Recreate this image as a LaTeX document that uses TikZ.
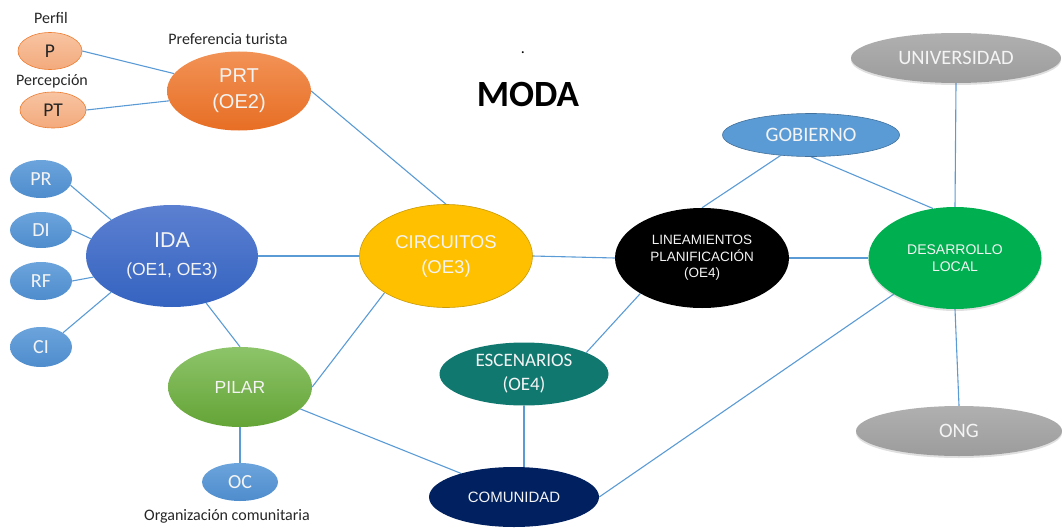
\documentclass[tikz,border=0pt]{standalone}
\usepackage{fontspec}
\setmainfont{Carlito}
\newfontfamily\robo{Liberation Sans}
\usetikzlibrary{shapes.geometric,backgrounds,shadows}
\definecolor{edgeblue}{HTML}{5B9BD5}
\definecolor{txtw}{HTML}{F4F4F4}
\definecolor{txtd}{HTML}{262626}
\begin{document}
\begin{tikzpicture}[x=1pt,y=-1pt,
  ell/.style={ellipse, inner sep=0pt, align=center},
  conn/.style={draw=edgeblue, line width=1.1pt},
  lbl/.style={font=\fontsize{16}{18}\selectfont, text=txtd},
  smallorange/.style={ell, top color={rgb,255:red,248;green,196;blue,162}, bottom color={rgb,255:red,243;green,170;blue,124}, draw={rgb,255:red,237;green,125;blue,49}, line width=0.6pt, text=txtd, font=\fontsize{19.5}{20}\selectfont},
  smallblue/.style={ell, top color={rgb,255:red,108;green,164;blue,220}, bottom color={rgb,255:red,78;green,140;blue,205}, text=txtw, font=\fontsize{20}{20}\selectfont},
  softshadow/.style={drop shadow={opacity=0.25, shadow xshift=0pt, shadow yshift=-2pt}},
  grayell/.style={ell, top color={rgb,255:red,176;green,176;blue,176}, bottom color={rgb,255:red,156;green,156;blue,156}, text=txtw, font=\fontsize{20.5}{22}\selectfont, softshadow}
]
\useasboundingbox (0,0) rectangle (1062,527);

% title
\node[font=\bfseries\fontsize{37}{40}\selectfont, text=black] (moda) at (528,94) {MODA};
\node[font=\fontsize{16}{18}\selectfont, anchor=base] (dot) at (523,54) {.};

% left top cluster
\node[smallorange, minimum width=64pt, minimum height=37pt] (P) at (50,51) {P};
\node[smallorange, minimum width=66pt, minimum height=36pt] (PT) at (53,110) {PT};
\node[lbl] (perfil) at (51,18) {Perfil};
\node[lbl] (percep) at (52,81) {Percepción};
\node[lbl] (pref) at (228,39) {Preferencia turista};
\node[ell, minimum width=144pt, minimum height=79pt,
  top color={rgb,255:red,242;green,146;blue,86}, bottom color={rgb,255:red,231;green,110;blue,36},
  text=txtw, font=\robo\fontsize{20}{26}\selectfont] (PRT) at (239,91) {PRT\\(OE2)};

% left blue cluster
\node[smallblue, minimum width=62pt, minimum height=38pt] (PR) at (41,179) {PR};
\node[smallblue, minimum width=62pt, minimum height=36pt] (DI) at (41,230) {DI};
\node[smallblue, minimum width=62pt, minimum height=38pt] (RF) at (41,281) {RF};
\node[smallblue, minimum width=62pt, minimum height=40pt] (CI) at (41,347) {CI};
\node[ell, minimum width=172pt, minimum height=102pt,
  top color={rgb,255:red,92;green,128;blue,209}, bottom color={rgb,255:red,52;green,99;blue,192},
  text=txtw, font=\robo\fontsize{17.5}{28}\selectfont] (IDA) at (172,256) {{\fontsize{21.5}{26}\selectfont IDA}\\(OE1, OE3)};

\node[ell, minimum width=144pt, minimum height=80pt,
  top color={rgb,255:red,141;green,196;blue,106}, bottom color={rgb,255:red,100;green,164;blue,54},
  text=txtw, font=\robo\fontsize{17.5}{20}\selectfont] (PILAR) at (240,387) {PILAR};
\node[smallblue, minimum width=76pt, minimum height=38pt] (OC) at (240,482) {OC};
\node[lbl] (orgcom) at (227,516) {Organización comunitaria};

% centre
\node[ell, minimum width=173pt, minimum height=103pt, fill={rgb,255:red,255;green,192;blue,0},
  draw={rgb,255:red,201;green,154;blue,6}, line width=0.6pt,
  text=txtw, font=\robo\fontsize{18.5}{25}\selectfont] (CIRC) at (446,256) {CIRCUITOS\\(OE3)};
\node[ell, minimum width=169pt, minimum height=63pt, fill={rgb,255:red,17;green,120;blue,112},
  text=txtw, font=\fontsize{19}{24}\selectfont] (ESC) at (524,374) {ESCENARIOS\\(OE4)};
\node[ell, minimum width=170pt, minimum height=60pt, fill={rgb,255:red,0;green,32;blue,96},
  text=txtw, font=\robo\fontsize{15}{18}\selectfont] (COM) at (514,497) {COMUNIDAD};
\node[ell, minimum width=174pt, minimum height=100pt, fill=black,
  text=txtw, font=\robo\fontsize{13.5}{16.5}\selectfont] (LIN) at (702,258) {LINEAMIENTOS\\PLANIFICACIÓN\\(OE4)};

% right
\node[ell, minimum width=177pt, minimum height=43pt, fill={rgb,255:red,91;green,155;blue,213},
  draw={rgb,255:red,65;green,113;blue,156}, line width=0.6pt,
  text=txtw, font=\fontsize{20.5}{22}\selectfont] (GOB) at (811,135) {GOBIERNO};
\node[ell, minimum width=173pt, minimum height=102pt, fill={rgb,255:red,0;green,176;blue,80},
  text=txtw, font=\robo\fontsize{14}{17}\selectfont, softshadow] (DES) at (955,258) {DESARROLLO\\LOCAL};
\node[grayell, minimum width=210pt, minimum height=50pt] (UNI) at (956,58) {UNIVERSIDAD};
\node[grayell, minimum width=206pt, minimum height=50pt] (ONG) at (959,431) {ONG};

% connectors
\begin{scope}[on background layer]
\draw[conn] (P.east) -- (PRT.165);
\draw[conn] (PT.east) -- (PRT.188);
\draw[conn] (PRT.east) -- (CIRC.north);
\draw[conn] (PR.-12) -- (IDA.north west);
\draw[conn] (DI.east) -- (IDA.168);
\draw[conn] (RF.east) -- (IDA.195);
\draw[conn] (CI.north east) -- (IDA.south west);
\draw[conn] (IDA.east) -- (CIRC.west);
\draw[conn] (IDA.-54) -- (PILAR.north);
\draw[conn] (PILAR.east) -- (CIRC.south west);
\draw[conn] (PILAR.south) -- (OC.north);
\draw[conn] (PILAR.-20) -- (COM.156);
\draw[conn] (CIRC.east) -- (LIN.west);
\draw[conn] (LIN.north) -- (GOB.214);
\draw[conn] (LIN.south west) -- (ESC.19);
\draw[conn] (LIN.east) -- (DES.west);
\draw[conn] (GOB.south) -- (DES.114);
\draw[conn] (UNI.south) -- (DES.north);
\draw[conn] (DES.south) -- (ONG.north);
\draw[conn] (DES.south west) -- (COM.east);
\draw[conn] (ESC.south) -- (ESC.south |- COM.north);
\end{scope}
\end{tikzpicture}
\end{document}
